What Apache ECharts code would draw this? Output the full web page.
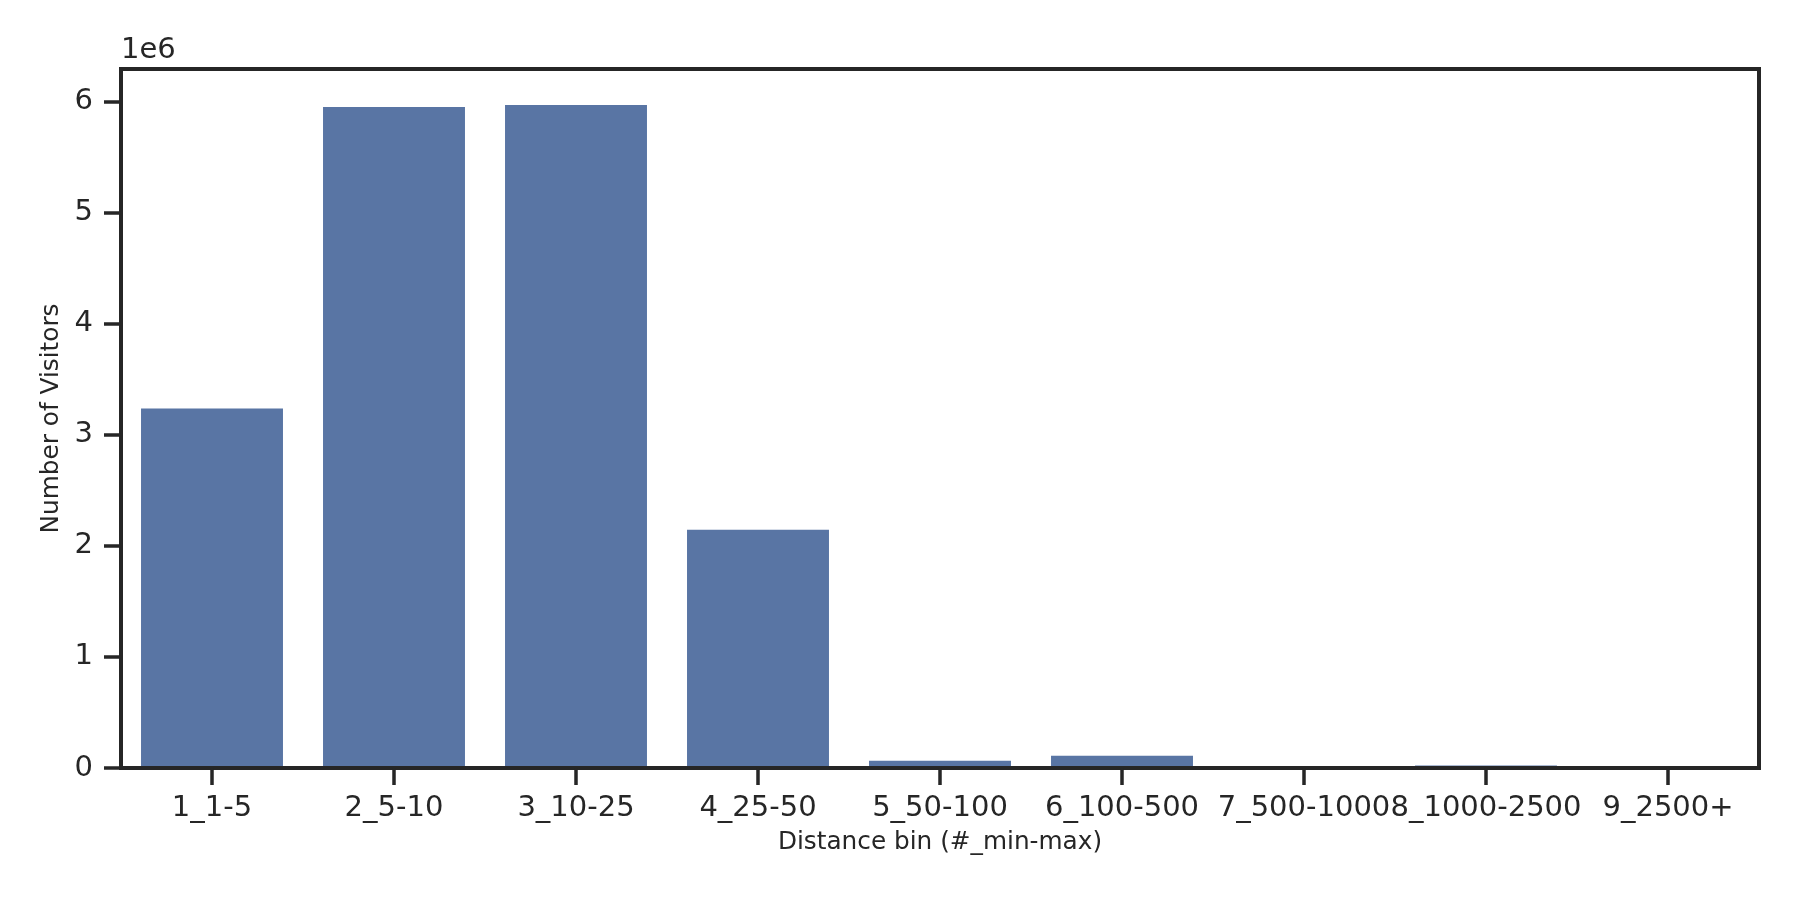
<!DOCTYPE html>
<html>
<head>
<meta charset="utf-8">
<script src="https://cdn.jsdelivr.net/npm/echarts@6/dist/echarts.min.js"></script>
<style>
  body, html {
    margin: 0;
    padding: 0;
    background: #ffffff;
  }
  #chart {
    width: 1800px;
    height: 900px;
  }
</style>
</head>
<body>
<div id="chart"></div>
<script type="text/javascript">
  // distance bins and visitor counts
  const categories = ["1_1-5", "2_5-10", "3_10-25", "4_25-50", "5_50-100", "6_100-500", "7_500-1000", "8_1000-2500", "9_2500+"];
  const visitors = [3236000, 5952000, 5970000, 2145000, 65000, 110000, 3000, 22000, 2000];
  const yTicks = [0, 1, 2, 3, 4, 5, 6]; // in units of 1e6

  const ink = "#262626";
  const font = "DejaVu Sans";

  let chart = echarts.init(document.getElementById("chart"));
  let option = {
    backgroundColor: "#ffffff",
    animation: false,
    grid: {
      left: 121,
      right: 41,
      top: 69,
      bottom: 132,
      show: true,
      borderColor: ink,
      borderWidth: 4,
      backgroundColor: "transparent",
    },
    graphic: [
      {
        type: "text",
        left: 121,
        top: 36,
        style: {
          text: "1e6",
          fill: ink,
          font: "29px 'DejaVu Sans'",
        },
      },
    ],
    xAxis: {
      type: "category",
      data: categories,
      z: 10,
      name: "Distance bin (#_min-max)",
      nameLocation: "middle",
      nameGap: 62,
      nameTextStyle: { color: ink, fontSize: 24.75, fontFamily: font },
      axisLine: { show: true, lineStyle: { color: ink, width: 4 } },
      axisTick: { show: true, alignWithLabel: true, length: 17, lineStyle: { color: ink, width: 3.5 } },
      axisLabel: { interval: 0, margin: 26, color: ink, fontSize: 29, fontFamily: font },
      splitLine: { show: false },
    },
    yAxis: {
      type: "value",
      min: 0,
      max: 6.294e6,
      interval: 1e6,
      z: 10,
      name: "Number of Visitors",
      nameLocation: "middle",
      nameGap: 55,
      nameTextStyle: { color: ink, fontSize: 24.75, fontFamily: font },
      axisLine: { show: true, lineStyle: { color: ink, width: 4 } },
      axisTick: { show: true, length: 17, lineStyle: { color: ink, width: 3.5 } },
      axisLabel: {
        margin: 28,
        color: ink,
        fontSize: 29,
        fontFamily: font,
        showMaxLabel: false,
        formatter: function (value) {
          let v = value / 1e6;
          return yTicks.indexOf(Math.round(v)) >= 0 ? String(Math.round(v)) : "";
        },
      },
      splitLine: { show: false },
    },
    series: [
      {
        type: "bar",
        barWidth: "78%",
        data: visitors,
        itemStyle: { color: "#5975a4" },
      },
    ],
  };
  chart.setOption(option);
</script>
</body>
</html>
